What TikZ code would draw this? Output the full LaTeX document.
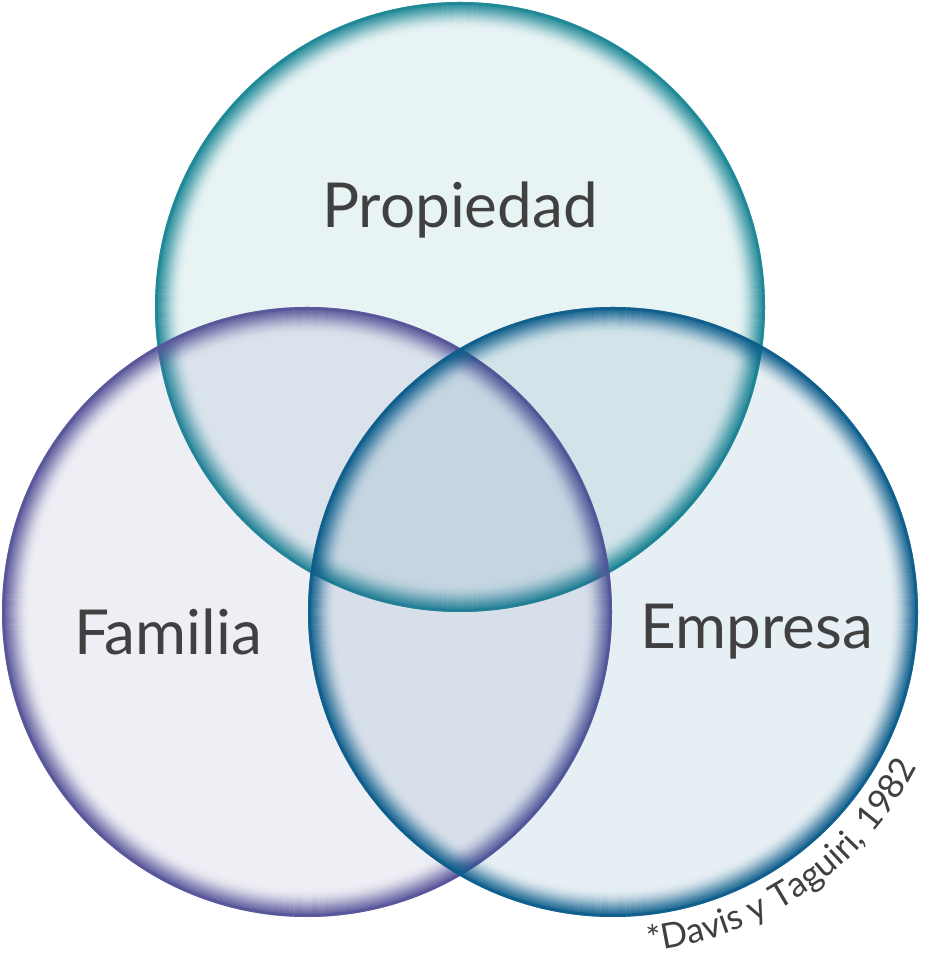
\documentclass[tikz,border=0pt]{standalone}
\usepackage{fontspec}
\setmainfont{Lato}
\usetikzlibrary{decorations.text}
\definecolor{propteal}{HTML}{1E8896}
\definecolor{fampurple}{HTML}{58569A}
\definecolor{empblue}{HTML}{0E5E8C}
\definecolor{labelgray}{HTML}{404040}
\tikzset{
  setlabel/.style={text=labelgray, font=\fontsize{62}{62}\selectfont},
  ringline/.style={line width=2.2pt}
}
% fading rim: dark outer edge, lighter towards the middle
\newcommand{\vennring}[2]{%
  \fill[#2, opacity=0.1] (#1) circle (305);
  \foreach \i [evaluate=\i as \op using 0.75*(1-\i/28)^2.2] in {0,...,27}
    \draw[ringline, #2, opacity=\op] (#1) circle (305-\i-1.1);
  \draw[#2, line width=3pt, opacity=0.9] (#1) circle (303.5);
}
\begin{document}
\begin{tikzpicture}[x=1pt,y=1pt]
\useasboundingbox (0,0) rectangle (929,965);

\coordinate (ctop) at (460,658);
\coordinate (cleft) at (307,353);
\coordinate (cright) at (613,353);

\vennring{ctop}{propteal}
\vennring{cleft}{fampurple}
\vennring{cright}{empblue}

\node[setlabel] (prop) at (460,755) {Propiedad};
\node[setlabel] (fam) at (168,333) {Familia};
\node[setlabel] (emp) at (757,333) {Empresa};

\path[decorate, decoration={text along path, text align=left,
  text={|\fontsize{35}{35}\selectfont\color{labelgray}|*Davis y Taguiri{,} 1982}}]
  (cright) ++(-84:341) arc (-84:-10:341);
\end{tikzpicture}
\end{document}
